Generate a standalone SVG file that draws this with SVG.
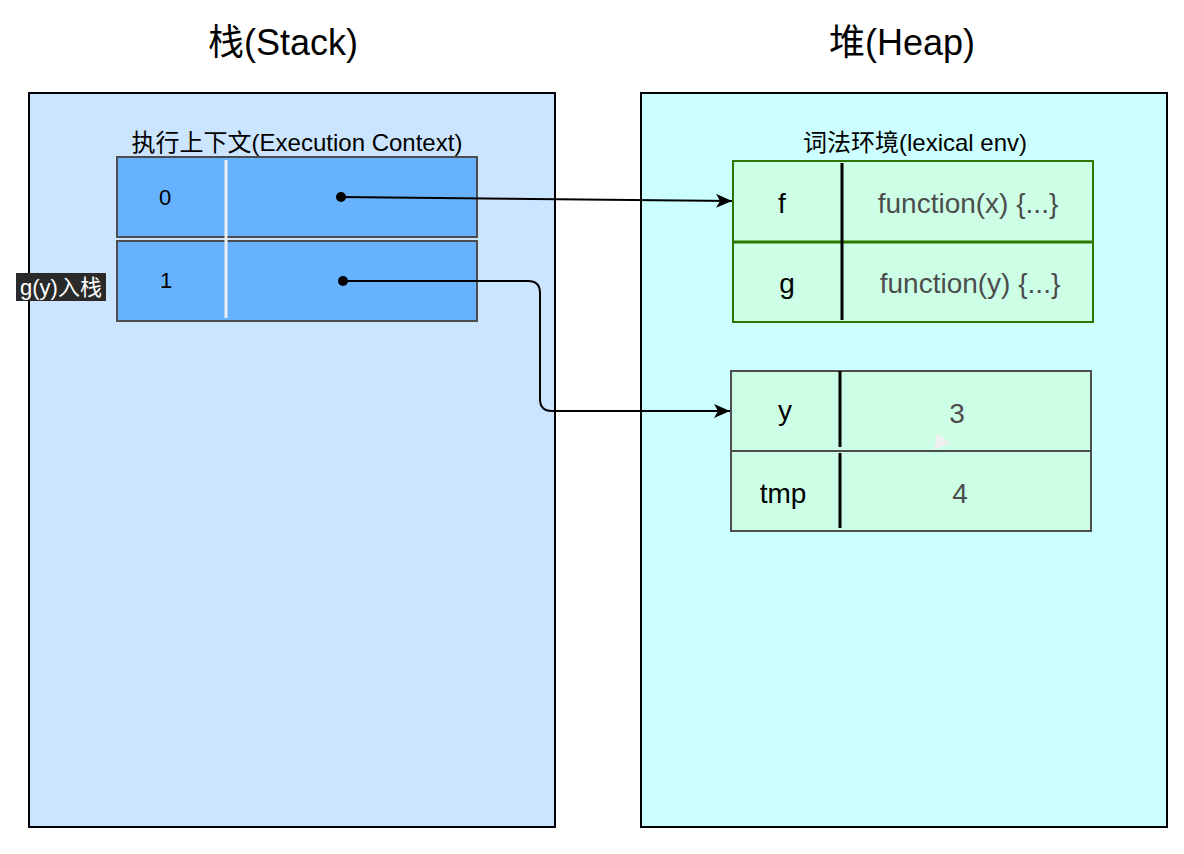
<svg xmlns="http://www.w3.org/2000/svg" width="1184" height="854" viewBox="0 0 1184 854">
<style>
text{font-family:"Liberation Sans","Noto Sans CJK SC",sans-serif;text-anchor:middle}
.title{font-size:36px;fill:#000}
.cap{font-size:24px;fill:#000}
.idx{font-size:22px;fill:#000}
.key{font-size:28px;fill:#000}
.val{font-size:28px;fill:#4d4d4d}
.row{fill:#66b2ff;stroke:#4d4d4d;stroke-width:2}
.cell{fill:#ccffe6}
.conn{fill:none;stroke:#000;stroke-width:2}
</style>
<defs>
<marker id="arr" markerUnits="userSpaceOnUse" markerWidth="18" markerHeight="14" refX="16" refY="7" orient="auto">
<path d="M0,0 L16,7 L0,14 L4,7 Z" fill="#000"/>
</marker>
</defs>
<rect width="1184" height="854" fill="#fff"/>
<g id="stack">
<rect x="29" y="93" width="526" height="734" fill="#cce5ff" stroke="#000" stroke-width="2"/>
<text class="title" x="283" y="55">栈(Stack)</text>
</g>
<g id="heap">
<rect x="641" y="93" width="526" height="734" fill="#ccffff" stroke="#000" stroke-width="2"/>
<text class="title" x="902" y="55">堆(Heap)</text>
</g>
<g id="ec">
<text class="cap" x="297" y="151">执行上下文(Execution Context)</text>
<rect class="row" x="117" y="157" width="360" height="80"/>
<rect class="row" x="117" y="241" width="360" height="80"/>
<line x1="226" y1="160" x2="226" y2="318" stroke="#f0f0f0" stroke-width="3"/>
<text class="idx" x="165" y="205">0</text>
<text class="idx" x="166" y="288">1</text>
</g>
<g id="gy-label">
<rect x="16" y="273" width="90" height="28" fill="#2a2a2a"/>
<text x="61" y="295" style="font-size:22px;fill:#fff">g(y)入栈</text>
</g>
<g id="lexenv">
<text class="cap" x="915" y="151">词法环境(lexical env)</text>
<rect class="cell" x="733" y="161" width="360" height="161" stroke="#2d7600" stroke-width="2"/>
<line x1="733" y1="242" x2="1093" y2="242" stroke="#2d7600" stroke-width="3"/>
<line x1="842" y1="163" x2="842" y2="320" stroke="#000" stroke-width="3"/>
<text class="key" x="782" y="213">f</text>
<text class="val" x="968" y="213">function(x) {...}</text>
<text class="key" x="787" y="293">g</text>
<text class="val" x="970" y="293">function(y) {...}</text>
</g>
<g id="gscope">
<rect class="cell" x="731" y="371" width="360" height="160" stroke="#4d4d4d" stroke-width="2"/>
<line x1="731" y1="451" x2="1091" y2="451" stroke="#4d4d4d" stroke-width="2"/>
<line x1="840" y1="371" x2="840" y2="447" stroke="#000" stroke-width="3"/>
<line x1="840" y1="453" x2="840" y2="528" stroke="#000" stroke-width="3"/>
<text class="key" x="785" y="420">y</text>
<text class="val" x="957" y="423">3</text>
<text class="key" x="783" y="503">tmp</text>
<text class="val" x="960" y="503">4</text>
<polygon points="934,450 937,433 950,443" fill="#f0f0f0"/>
</g>
<g id="connectors">
<circle cx="341" cy="197" r="5" fill="#000"/>
<circle cx="343" cy="281" r="5" fill="#000"/>
<path class="conn" d="M341,197 L732,201" marker-end="url(#arr)"/>
<path class="conn" d="M343,281 L528,281 Q540,281 540,293 L540,399 Q540,411 552,411 L730,411" marker-end="url(#arr)"/>
</g>
</svg>
